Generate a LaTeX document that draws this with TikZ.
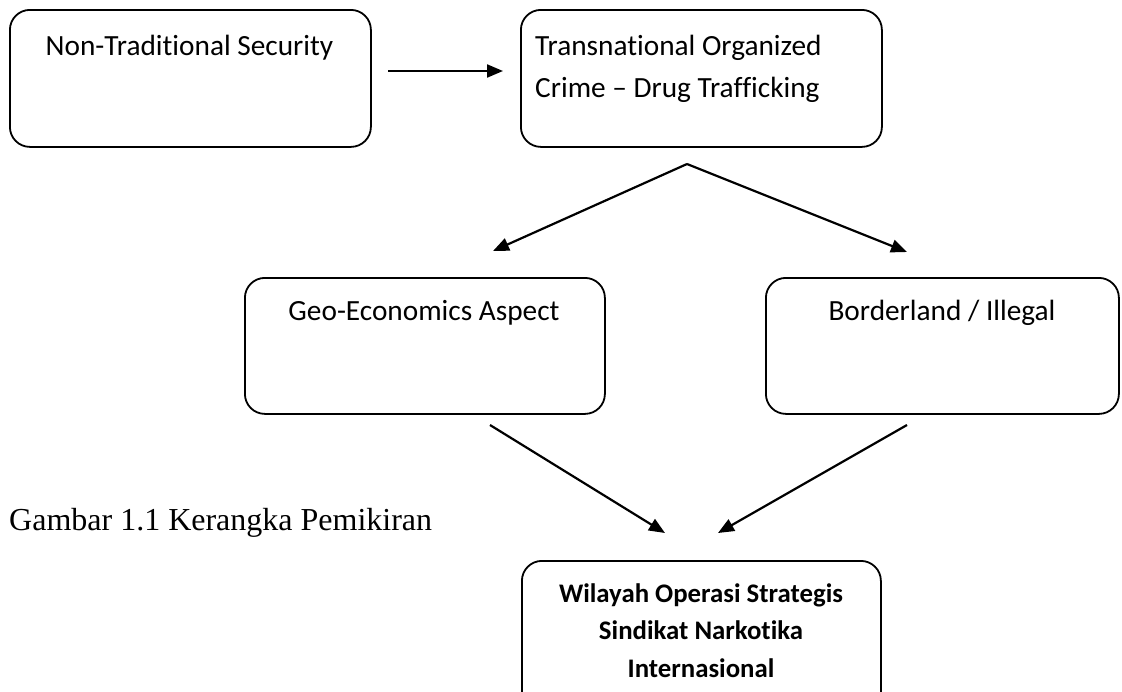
\documentclass[tikz,border=0pt]{standalone}
\usepackage{fontspec}
\setmainfont{Liberation Serif}
\newfontfamily\calfont[Ligatures=NoCommon]{Carlito}
\usetikzlibrary{arrows.meta}
\begin{document}
\begin{tikzpicture}[x=1pt,y=-1pt,
  box/.style={draw, line width=1.8pt, rounded corners=20pt, anchor=north west, inner sep=0pt},
  lbl/.style={font=\calfont\fontsize{29.3}{42}\selectfont, inner sep=0pt},
  boldlbl/.style={font=\calfont\bfseries\fontsize{26.8}{37}\selectfont, inner sep=0pt, anchor=base},
  conn/.style={line width=2.2pt, -{Triangle[length=16pt,width=13pt]}}]
\useasboundingbox (0,0) rectangle (1122,691);
\clip (0,0) rectangle (1122,691);
% boxes
\node[box, minimum width=361pt, minimum height=137pt] (b1) at (9,9) {};
\node[box, minimum width=361pt, minimum height=137pt] (b2) at (520,9) {};
\node[box, minimum width=360pt, minimum height=136pt] (b3) at (244,277) {};
\node[box, minimum width=353pt, minimum height=136pt] (b4) at (765,277) {};
\node[box, minimum width=359pt, minimum height=170pt] (b5) at (521,560) {};
% texts
\node[lbl, anchor=base] (t1) at (189.5,55) {Non-Traditional Security};
\node[lbl, anchor=base west] (t2a) at (535,55) {Transnational Organized};
\node[lbl, anchor=base west] (t2b) at (535,97) {Crime – Drug Trafficking};
\node[lbl, anchor=base] (t3) at (424,320) {Geo-Economics Aspect};
\node[lbl, anchor=base] (t4) at (942,320) {Borderland / Illegal};
\node[boldlbl] (t5a) at (701,602) {Wilayah Operasi Strategis};
\node[boldlbl] (t5b) at (701,639) {Sindikat Narkotika};
\node[boldlbl] (t5c) at (701,677) {Internasional};
\node[font=\fontsize{32}{38}\selectfont, inner sep=0pt, anchor=base west] (cap) at (9,530) {Gambar 1.1 Kerangka Pemikiran};
% connector ends
\coordinate (a1s) at (388,71);
\coordinate (a1e) at (503,71);
\coordinate (apex) at (687,164);
\coordinate (fl) at (493,251);
\coordinate (fr) at (907,252);
\coordinate (ls) at (490,425);
\coordinate (le) at (665,533);
\coordinate (rs) at (907,425);
\coordinate (re) at (718,533);
% connectors
\draw[conn] (a1s) -- (a1e);
\draw[conn] (apex) -- (fl);
\draw[conn] (apex) -- (fr);
\draw[conn] (ls) -- (le);
\draw[conn] (rs) -- (re);
\end{tikzpicture}
\end{document}
